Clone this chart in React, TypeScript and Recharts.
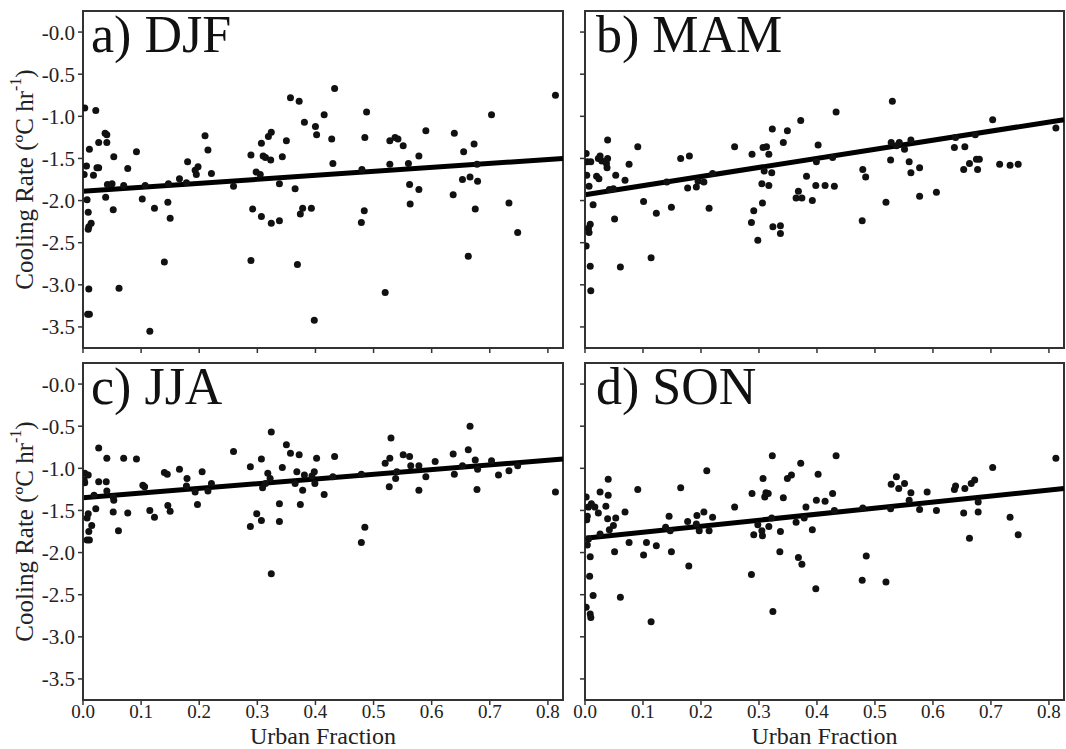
import {
  ReferenceArea,
  ReferenceLine,
  Scatter,
  ScatterChart,
  XAxis,
  YAxis,
} from "recharts";

// Urban fraction (x) vs. nocturnal cooling rate (y), one list per season.
// Values.
const djfPoints: [number, number][] = [
  [0.003, -0.9], [0.022, -0.93], [0.011, -1.39], [0.038, -1.2], [0.041, -1.22], [0.027, -1.31],
  [0.041, -1.31], [0.006, -1.59], [0.002, -1.69], [0.018, -1.7], [0.024, -1.61], [0.027, -1.61],
  [0.053, -1.48], [0.042, -1.81], [0.05, -1.8], [0.007, -1.99], [0.039, -1.96], [0.009, -2.14],
  [0.052, -2.11], [0.01, -2.31], [0.014, -2.27], [0.009, -2.34], [0.01, -3.05], [0.008, -3.35],
  [0.011, -3.35], [0.062, -3.04], [0.07, -1.82], [0.077, -1.62], [0.092, -1.42], [0.107, -1.82],
  [0.102, -1.98], [0.123, -2.09], [0.115, -3.55], [0.14, -2.73], [0.147, -1.8], [0.146, -2.02],
  [0.15, -2.21], [0.166, -1.74], [0.18, -1.54], [0.178, -1.79], [0.193, -1.64], [0.198, -1.6],
  [0.195, -1.69], [0.21, -1.23], [0.215, -1.4], [0.221, -1.68], [0.259, -1.83], [0.289, -1.46],
  [0.292, -2.1], [0.289, -2.71], [0.298, -1.66], [0.305, -1.69], [0.307, -1.32], [0.307, -2.19],
  [0.31, -1.47], [0.314, -1.49], [0.319, -1.24], [0.324, -1.19], [0.323, -1.52], [0.324, -2.27],
  [0.338, -1.8], [0.338, -2.24], [0.343, -1.48], [0.35, -1.29], [0.357, -0.78], [0.372, -0.82],
  [0.365, -1.86], [0.369, -2.76], [0.374, -2.16], [0.378, -2.09], [0.381, -1.07], [0.393, -2.09],
  [0.4, -1.12], [0.402, -1.22], [0.398, -3.42], [0.415, -0.98], [0.428, -1.27], [0.433, -0.67],
  [0.43, -1.56], [0.479, -2.26], [0.484, -2.12], [0.485, -1.25], [0.488, -0.95], [0.48, -1.63],
  [0.52, -3.09], [0.528, -1.29], [0.528, -1.57], [0.537, -1.25], [0.542, -1.27], [0.551, -1.35],
  [0.56, -1.56], [0.562, -1.81], [0.578, -1.47], [0.578, -1.87], [0.563, -2.04], [0.59, -1.17],
  [0.639, -1.2], [0.637, -1.93], [0.653, -1.75], [0.655, -1.42], [0.666, -1.72], [0.673, -1.33],
  [0.678, -1.57], [0.679, -1.77], [0.675, -2.1], [0.663, -2.66], [0.703, -0.98], [0.733, -2.03],
  [0.748, -2.38], [0.813, -0.75],
];

const mamPoints: [number, number][] = [
  [0.002, -1.44], [0.004, -1.54], [0.01, -1.54], [0.003, -1.7], [0.007, -1.83], [0.02, -1.71],
  [0.024, -1.74], [0.023, -1.5], [0.026, -1.47], [0.029, -1.53], [0.039, -1.28], [0.039, -1.5],
  [0.037, -1.56], [0.038, -1.61], [0.053, -1.7], [0.049, -1.86], [0.042, -1.87], [0.014, -2.05],
  [0.009, -2.28], [0.006, -2.33], [0.007, -2.38], [0.002, -2.54], [0.009, -2.78], [0.01, -3.07],
  [0.051, -2.22], [0.061, -2.79], [0.069, -1.76], [0.076, -1.57], [0.091, -1.36], [0.101, -2.01],
  [0.123, -2.15], [0.114, -2.68], [0.149, -2.08], [0.141, -1.78], [0.165, -1.5], [0.18, -1.47],
  [0.177, -1.85], [0.192, -1.84], [0.195, -1.77], [0.205, -1.78], [0.214, -2.09], [0.22, -1.68],
  [0.258, -1.36], [0.288, -1.45], [0.287, -2.26], [0.291, -2.12], [0.298, -2.47], [0.306, -2.03],
  [0.305, -1.8], [0.309, -1.65], [0.307, -1.37], [0.313, -1.36], [0.317, -1.45], [0.323, -1.15],
  [0.322, -1.67], [0.317, -1.82], [0.324, -2.31], [0.337, -2.3], [0.337, -2.39], [0.342, -1.31],
  [0.349, -1.17], [0.372, -1.05], [0.382, -1.71], [0.368, -1.89], [0.364, -1.97], [0.374, -1.97],
  [0.392, -2.0], [0.398, -1.82], [0.399, -1.54], [0.402, -1.34], [0.414, -1.82], [0.43, -1.83],
  [0.427, -1.49], [0.433, -0.95], [0.478, -2.24], [0.479, -1.63], [0.484, -1.72], [0.519, -2.02],
  [0.53, -0.82], [0.527, -1.52], [0.528, -1.31], [0.537, -1.35], [0.542, -1.31], [0.551, -1.39],
  [0.559, -1.54], [0.562, -1.28], [0.562, -1.67], [0.577, -1.61], [0.577, -1.95], [0.606, -1.9],
  [0.637, -1.37], [0.639, -1.25], [0.655, -1.36], [0.653, -1.63], [0.663, -1.56], [0.673, -1.22],
  [0.675, -1.51], [0.68, -1.51], [0.677, -1.63], [0.703, -1.04], [0.715, -1.57], [0.733, -1.58],
  [0.747, -1.57], [0.812, -1.14],
];

const jjaPoints: [number, number][] = [
  [0.003, -1.06], [0.009, -1.08], [0.003, -1.17], [0.002, -1.14], [0.019, -1.32], [0.022, -1.48],
  [0.027, -0.76], [0.027, -1.16], [0.04, -1.16], [0.041, -0.88], [0.041, -1.27], [0.052, -1.34],
  [0.053, -1.38], [0.052, -1.52], [0.009, -1.54], [0.007, -1.59], [0.015, -1.68], [0.01, -1.75],
  [0.007, -1.85], [0.011, -1.85], [0.061, -1.74], [0.07, -0.88], [0.077, -1.53], [0.092, -0.89],
  [0.103, -1.2], [0.106, -1.22], [0.115, -1.5], [0.123, -1.58], [0.14, -1.05], [0.145, -1.07],
  [0.146, -1.44], [0.15, -1.51], [0.166, -1.01], [0.179, -1.12], [0.178, -1.21], [0.193, -1.28],
  [0.197, -1.43], [0.205, -1.04], [0.215, -1.27], [0.221, -1.18], [0.259, -0.8], [0.288, -0.98],
  [0.288, -1.69], [0.299, -1.54], [0.307, -1.62], [0.307, -0.89], [0.309, -1.23], [0.314, -1.18],
  [0.318, -1.06], [0.322, -1.12], [0.324, -0.57], [0.324, -2.25], [0.338, -1.42], [0.338, -1.63],
  [0.343, -0.99], [0.35, -0.72], [0.357, -0.82], [0.365, -1.18], [0.368, -1.04], [0.372, -0.84],
  [0.374, -1.43], [0.378, -1.26], [0.381, -1.08], [0.394, -1.09], [0.398, -1.04], [0.399, -1.18],
  [0.402, -0.88], [0.415, -1.31], [0.433, -0.86], [0.43, -1.1], [0.479, -1.88], [0.485, -1.7],
  [0.479, -1.07], [0.52, -0.94], [0.53, -0.64], [0.528, -0.88], [0.527, -1.22], [0.538, -1.12],
  [0.54, -1.04], [0.551, -0.84], [0.562, -0.86], [0.564, -0.97], [0.578, -0.97], [0.578, -1.26],
  [0.59, -1.1], [0.606, -0.92], [0.637, -0.83], [0.639, -1.07], [0.653, -0.97], [0.663, -0.78],
  [0.666, -0.5], [0.675, -0.9], [0.679, -1.01], [0.678, -1.25], [0.703, -0.91], [0.715, -1.08],
  [0.733, -1.03], [0.748, -0.97], [0.813, -1.28],
];

const sonPoints: [number, number][] = [
  [0.002, -1.34], [0.006, -1.46], [0.011, -1.42], [0.017, -1.46], [0.004, -1.57], [0.003, -1.61],
  [0.023, -1.53], [0.026, -1.28], [0.04, -1.13], [0.04, -1.32], [0.036, -1.45], [0.039, -1.6],
  [0.042, -1.73], [0.049, -1.68], [0.053, -1.59], [0.026, -1.78], [0.006, -1.84], [0.004, -1.91],
  [0.009, -2.05], [0.008, -2.28], [0.014, -2.51], [0.002, -2.65], [0.009, -2.73], [0.01, -2.77],
  [0.051, -1.99], [0.061, -2.53], [0.069, -1.52], [0.076, -1.88], [0.091, -1.25], [0.101, -2.03],
  [0.106, -1.88], [0.123, -1.92], [0.114, -2.82], [0.139, -1.7], [0.145, -1.57], [0.147, -1.74],
  [0.149, -1.99], [0.165, -1.23], [0.177, -1.63], [0.179, -2.16], [0.193, -1.56], [0.192, -1.66],
  [0.197, -1.74], [0.205, -1.52], [0.21, -1.03], [0.214, -1.74], [0.22, -1.58], [0.258, -1.46],
  [0.288, -1.3], [0.287, -2.26], [0.291, -1.79], [0.298, -1.67], [0.305, -1.74], [0.306, -1.8],
  [0.307, -1.12], [0.31, -1.34], [0.312, -1.29], [0.316, -1.3], [0.317, -1.69], [0.323, -0.85],
  [0.322, -1.59], [0.324, -2.7], [0.337, -1.75], [0.336, -1.99], [0.342, -1.35], [0.349, -1.12],
  [0.356, -1.08], [0.364, -1.64], [0.368, -2.06], [0.372, -0.94], [0.374, -2.14], [0.378, -1.59],
  [0.381, -1.46], [0.392, -1.73], [0.398, -2.43], [0.399, -1.38], [0.402, -1.07], [0.414, -1.39],
  [0.427, -1.3], [0.43, -1.5], [0.433, -0.85], [0.478, -2.33], [0.479, -1.47], [0.485, -2.04],
  [0.519, -2.35], [0.527, -1.48], [0.528, -1.19], [0.537, -1.1], [0.541, -1.24], [0.551, -1.18],
  [0.562, -1.29], [0.559, -1.38], [0.577, -1.49], [0.59, -1.28], [0.606, -1.5], [0.637, -1.25],
  [0.639, -1.21], [0.655, -1.24], [0.653, -1.53], [0.663, -1.83], [0.666, -1.18], [0.672, -1.14],
  [0.678, -1.52], [0.678, -1.4], [0.703, -0.99], [0.733, -1.58], [0.747, -1.79], [0.812, -0.88],
];

// Regression lines, as endpoints [x, y] at the left and right plot edges.
const djfFit: [number, number][] = [[0, -1.89], [0.826, -1.5]];
const mamFit: [number, number][] = [[0, -1.93], [0.826, -1.04]];
const jjaFit: [number, number][] = [[0, -1.35], [0.826, -0.89]];
const sonFit: [number, number][] = [[0, -1.83], [0.826, -1.24]];

const xTicks = [0, 0.1, 0.2, 0.3, 0.4, 0.5, 0.6, 0.7, 0.8];
const yTicks = [0, -0.5, -1, -1.5, -2, -2.5, -3, -3.5];
const X_MAX = 0.826;
const Y_MIN = -3.75;
const Y_MAX = 0.25;

const FONT = '"Liberation Serif", "Times New Roman", serif';
const INK = "#222";
const AXIS = "#333";

type PanelProps = {
  title: string;
  points: [number, number][];
  fit: [number, number][];
  left: number;
  top: number;
  showYLabels: boolean;
  showXLabels: boolean;
};

function YLabel(props: any) {
  const vb = props.viewBox || {};
  const cx = (vb.x ?? 0) + 24;
  const cy = (vb.y ?? 0) + (vb.height ?? 0) / 2;
  return (
    <text
      x={cx}
      y={cy}
      transform={`rotate(-90 ${cx} ${cy})`}
      textAnchor="middle"
      dominantBaseline="central"
      fontFamily={FONT}
      fontSize={25}
      fill={INK}
    >
      Cooling Rate (ºC hr
      <tspan dy={-9} fontSize={16}>-1</tspan>
      <tspan dy={9}>)</tspan>
    </text>
  );
}

function XLabel(props: any) {
  const vb = props.viewBox || {};
  const cx = (vb.x ?? 0) + (vb.width ?? 0) / 2;
  const by = (vb.y ?? 0) + (vb.height ?? 0) - 5;
  return (
    <text x={cx} y={by} textAnchor="middle" fontFamily={FONT} fontSize={24} fill={INK}>
      Urban Fraction
    </text>
  );
}

const Dot = (p: any) => <circle cx={p.cx} cy={p.cy} r={3.5} fill="#111" />;

function fmtY(v: number): string {
  return v === 0 ? "-0.0" : v.toFixed(1);
}

function Panel({ title, points, fit, left, top, showYLabels, showXLabels }: PanelProps) {
  const width = showYLabels ? 565 : 506;
  const height = showXLabels ? 397 : 360;
  const yAxisWidth = showYLabels ? 83 : 25;
  const xAxisHeight = showXLabels ? 49 : 12;
  const data = points.map(([x, y]) => ({ x, y }));
  const titleX = showYLabels ? 91 : 36;

  return (
    <div style={{ position: "absolute", left, top, width, height }}>
      <ScatterChart width={width} height={height} margin={{ top: 11, right: 2, bottom: 0, left: 0 }}>
        <XAxis
          type="number"
          dataKey="x"
          domain={[0, X_MAX]}
          ticks={xTicks}
          allowDataOverflow
          height={xAxisHeight}
          tickSize={5}
          tickMargin={0}
          tickFormatter={(v: number) => (showXLabels ? v.toFixed(1) : "")}
          tick={{ fontSize: 19, fill: INK, fontFamily: FONT }}
          axisLine={{ stroke: AXIS, strokeWidth: 2 }}
          tickLine={{ stroke: AXIS, strokeWidth: 1.5 }}
          label={showXLabels ? { content: XLabel } : undefined}
        />
        <YAxis
          type="number"
          dataKey="y"
          domain={[Y_MIN, Y_MAX]}
          ticks={yTicks}
          allowDataOverflow
          width={yAxisWidth}
          tickSize={5}
          tickMargin={3}
          tickFormatter={(v: number) => (showYLabels ? fmtY(v) : "")}
          tick={{ fontSize: 21, fill: INK, fontFamily: FONT }}
          axisLine={{ stroke: AXIS, strokeWidth: 2 }}
          tickLine={{ stroke: AXIS, strokeWidth: 1.5 }}
          label={showYLabels ? { content: YLabel } : undefined}
        />
        <ReferenceArea
          x1={0}
          x2={X_MAX}
          y1={Y_MIN}
          y2={Y_MAX}
          fill="none"
          fillOpacity={0}
          stroke={AXIS}
          strokeWidth={2}
          ifOverflow="visible"
        />
        <Scatter data={data} shape={Dot} isAnimationActive={false} />
        <ReferenceLine
          segment={[
            { x: fit[0][0], y: fit[0][1] },
            { x: fit[1][0], y: fit[1][1] },
          ]}
          stroke="#000"
          strokeWidth={5}
          ifOverflow="visible"
        />
      </ScatterChart>
      <svg
        width={width}
        height={70}
        style={{ position: "absolute", left: 0, top: 0, pointerEvents: "none" }}
      >
        <text x={titleX} y={52} fontFamily={FONT} fontSize={52} fill="#111">
          {title}
        </text>
      </svg>
    </div>
  );
}

export default function App() {
  return (
    <div
      style={{
        position: "absolute",
        left: 0,
        top: 0,
        width: 1066,
        height: 749,
        background: "#fff",
        overflow: "hidden",
      }}
    >
      <Panel title="a) DJF" points={djfPoints} fit={djfFit} left={0} top={0} showYLabels showXLabels={false} />
      <Panel title="b) MAM" points={mamPoints} fit={mamFit} left={560} top={0} showYLabels={false} showXLabels={false} />
      <Panel title="c) JJA" points={jjaPoints} fit={jjaFit} left={0} top={352} showYLabels showXLabels />
      <Panel title="d) SON" points={sonPoints} fit={sonFit} left={560} top={352} showYLabels={false} showXLabels />
    </div>
  );
}
